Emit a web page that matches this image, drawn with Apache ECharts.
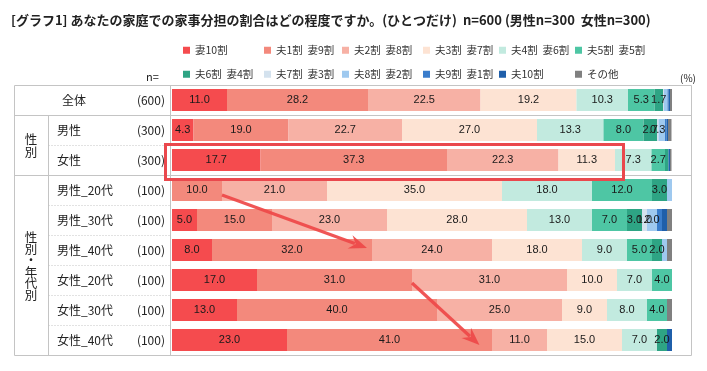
<!DOCTYPE html>
<html>
<head>
<meta charset="utf-8">
<script src="https://cdn.jsdelivr.net/npm/echarts@6/dist/echarts.min.js"></script>
<style>
html,body{margin:0;padding:0;background:#fff;}
#c{width:707px;height:371px;}
</style>
</head>
<body>
<div id="c"></div>
<script>
// ---- data ----
const rows = ['全体','男性','女性','男性_20代','男性_30代','男性_40代','女性_20代','女性_30代','女性_40代'];
const nValues = [600,300,300,100,100,100,100,100,100];
const seriesNames = ['妻10割','夫1割  妻9割','夫2割  妻8割','夫3割  妻7割','夫4割  妻6割','夫5割  妻5割','夫6割  妻4割','夫7割  妻3割','夫8割  妻2割','夫9割  妻1割','夫10割','その他'];
const w10  = [11.0, 4.3, 17.7, 0,    5.0,  8.0, 17.0, 13.0, 23.0];
const h1   = [28.2, 19.0, 37.3, 10.0, 15.0, 32.0, 31.0, 40.0, 41.0];
const h2   = [22.5, 22.7, 22.3, 21.0, 23.0, 24.0, 31.0, 25.0, 11.0];
const h3   = [19.2, 27.0, 11.3, 35.0, 28.0, 18.0, 10.0, 9.0, 15.0];
const h4   = [10.3, 13.3, 7.3, 18.0, 13.0, 9.0, 7.0, 8.0, 7.0];
const h5   = [5.3, 8.0, 2.7, 12.0, 7.0, 5.0, 4.0, 4.0, 0];
const h6   = [1.7, 2.7, 0.7, 3.0, 3.0, 2.0, 0, 0, 2.0];
const h7   = [0.2, 0.3, 0, 0, 1.0, 0, 0, 0, 0];
const h8   = [0.7, 1.3, 0, 1.0, 2.0, 1.0, 0, 0, 0];
const h9   = [0.2, 0.3, 0, 0, 1.0, 0, 0, 0, 0];
const h10  = [0.3, 0.3, 0.3, 0, 1.0, 0, 0, 0, 1.0];
const other= [0.5, 0.7, 0.3, 0, 1.0, 1.0, 0, 1.0, 0];
const seriesValues = [w10,h1,h2,h3,h4,h5,h6,h7,h8,h9,h10,other];
const colors = ['#f54b4e','#f3897c','#f7b1a5','#fde3d3','#c2eadf','#4ec6a4','#2ea484','#d4e2ee','#9fc9ef','#3a7dcc','#1f5faa','#808080'];

const chart = echarts.init(document.getElementById('c'));

const series = seriesValues.map((vals, i) => ({
  name: seriesNames[i],
  type: 'bar',
  stack: 'all',
  barWidth: 22,
  data: vals,
  itemStyle: {color: colors[i]},
  emphasis: {disabled: true},
  label: {
    show: true,
    position: 'inside',
    color: '#1a1a1a',
    fontSize: 11,
    fontFamily: 'Liberation Sans, Arial, sans-serif',
    formatter: p => {
      const v = p.value;
      if (v >= 1.5 || (i === 7 && v >= 0.3)) return v.toFixed(1);
      return '';
    }
  }
}));

// legend laid out as a 6-column grid, one legend component per entry
const legendCols = [178, 259, 337, 418, 494, 570];
const legends = seriesNames.map((name, i) => ({
  data: [name],
  left: legendCols[i % 6],
  top: i < 6 ? 40 : 64,
  itemWidth: 7, itemHeight: 7, icon: 'rect', selectedMode: false,
  textStyle: {fontSize: 10.5, color: '#333', fontFamily: 'Noto Sans CJK JP, sans-serif'}
}));

chart.setOption({
  animation: false,
  title: {
    text: '[グラフ1] あなたの家庭での家事分担の割合はどの程度ですか。(ひとつだけ)  n=600 (男性n=300  女性n=300)',
    left: 6, top: 9,
    textStyle: {fontSize: 13, fontWeight: 'bold', color: '#222', fontFamily: 'Noto Sans CJK JP, sans-serif'}
  },
  legend: legends,
  grid: {left: 172, right: 35, top: 85, bottom: 16, containLabel: false},
  xAxis: {type: 'value', min: 0, max: 100, show: false},
  yAxis: {
    type: 'category', inverse: true, data: rows,
    axisLine: {show: false}, axisTick: {show: false},
    axisLabel: {
      margin: 7,
      formatter: (val, idx) => {
        const key = idx === 0 ? 'f' : 'a';
        return '{' + key + '|' + val + '}{n|(' + nValues[idx] + ')}';
      },
      rich: {
        a: {width: 80, align: 'left', fontSize: 12, color: '#222', fontFamily: 'Noto Sans CJK JP, sans-serif'},
        f: {width: 75, align: 'left', padding: [0,0,0,5], fontSize: 12, color: '#222', fontFamily: 'Noto Sans CJK JP, sans-serif'},
        n: {width: 28, align: 'right', fontSize: 12, color: '#222', fontFamily: 'Noto Sans CJK JP, sans-serif'}
      }
    }
  },
  series: series
});

// ---- decorations: table frame, group labels, highlight & arrows ----
const LC = '#c4c4c4';
const mkLine = (x1,y1,x2,y2,dash) => ({type:'line', z: 0, shape:{x1,y1,x2,y2}, style:{stroke:LC, lineWidth:1, lineDash: dash ? [1,2] : null}, silent:true});
const g = [];
const fTop = 85.5, fBot = 355.5, fL = 14.5, fR = 691.5;
g.push(mkLine(fL, fTop, fR, fTop), mkLine(fL, fBot, fR, fBot), mkLine(fL, fTop, fL, fBot), mkLine(fR, fTop, fR, fBot));
g.push(mkLine(170.5, fTop, 170.5, fBot));
g.push(mkLine(48.5, 115.5, 48.5, fBot));
g.push(mkLine(fL, 115.5, fR, 115.5), mkLine(fL, 175.5, fR, 175.5));
[145.5, 205.5, 235.5, 265.5, 295.5, 325.5].forEach(y => g.push(mkLine(48.5, y, 170, y, true)));

g.push({type:'text', z: 5, style:{text:'性\n別', x: 31, y: 146, align:'center', verticalAlign:'middle', fontSize: 12.5, lineHeight: 13, fill:'#222', fontFamily:'Noto Sans CJK JP, sans-serif'}});
g.push({type:'text', z: 5, style:{text:'性\n別\n・\n年\n代\n別', x: 31, y: 266, align:'center', verticalAlign:'middle', fontSize: 12.5, lineHeight: 11.5, fill:'#222', fontFamily:'Noto Sans CJK JP, sans-serif'}});
g.push({type:'text', z: 5, style:{text:'n=', x: 146, y: 77, align:'left', verticalAlign:'middle', fontSize: 11, fill:'#222', fontFamily:'Noto Sans CJK JP, sans-serif'}});
g.push({type:'text', z: 5, style:{text:'(%)', x: 688, y: 78, align:'center', verticalAlign:'middle', fontSize: 10, fill:'#222', fontFamily:'Noto Sans CJK JP, sans-serif'}});

// highlight box around 女性 row
g.push({type:'rect', z: 100, shape:{x: 165.5, y: 144.5, width: 458, height: 35}, style:{fill:'none', stroke:'#ea484d', lineWidth: 3}, silent:true});

// arrows anchored to data positions
function arrow(fromVal, fromRow, fromDy, toVal, toRow, toDy) {
  const p1 = chart.convertToPixel({gridIndex:0}, [fromVal, fromRow]);
  const p2 = chart.convertToPixel({gridIndex:0}, [toVal, toRow]);
  const x1 = p1[0], y1 = p1[1] + fromDy, x2 = p2[0], y2 = p2[1] + toDy;
  const dx = x2 - x1, dy = y2 - y1, len = Math.hypot(dx, dy);
  const ux = dx/len, uy = dy/len, px = -uy, py = ux;
  const hl = 16, hw = 7;
  const bx = x2 - ux*hl, by = y2 - uy*hl;
  const col = 'rgba(238,72,72,0.92)';
  g.push({type:'line', z: 101, shape:{x1, y1, x2: bx + ux*3, y2: by + uy*3}, style:{stroke: col, lineWidth: 3.2}, silent:true});
  g.push({type:'polygon', z: 101, shape:{points:[[x2,y2],[bx+px*hw - ux*2, by+py*hw - uy*2],[bx + ux*4, by + uy*4],[bx-px*hw - ux*2, by-py*hw - uy*2]]}, style:{fill: col}, silent:true});
}
arrow(10, '男性_20代', 5, 39, '男性_40代', -2);
arrow(48, '女性_20代', 3, 61.5, '女性_40代', 5);

chart.setOption({graphic: g});
</script>
</body>
</html>
